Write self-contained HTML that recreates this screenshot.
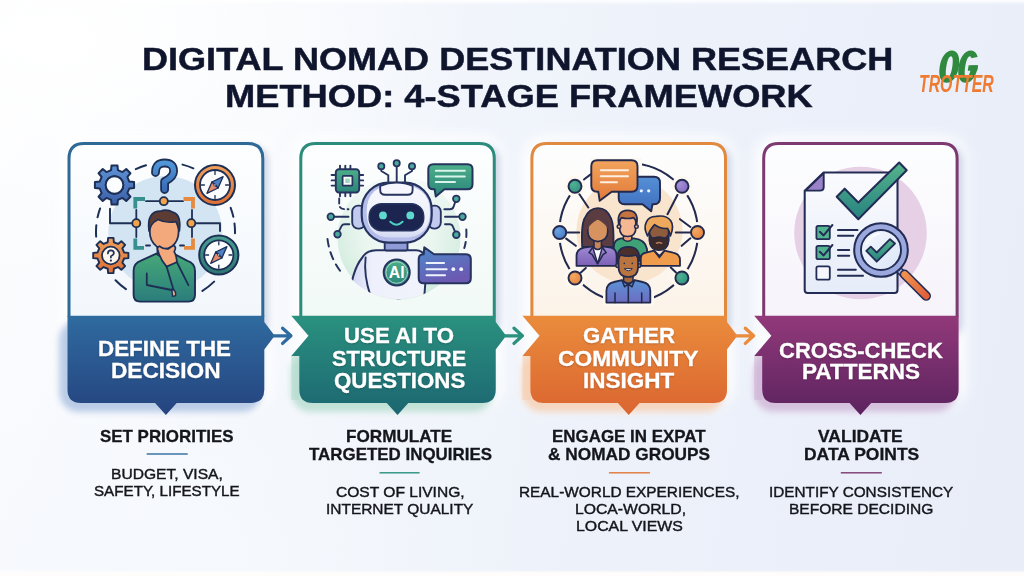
<!DOCTYPE html>
<html lang="en"><head><meta charset="utf-8"><title>Digital Nomad Destination Research Method</title>
<style>
html,body{margin:0;padding:0}
body{width:1024px;height:576px;overflow:hidden;position:relative;font-family:"Liberation Sans",sans-serif;
background:
 linear-gradient(180deg,rgba(255,255,255,.95) 0,rgba(255,255,255,0) 5px),
 linear-gradient(0deg,#fefdfb 0,#fefdfb 3px,rgba(255,255,255,0) 6px),
 radial-gradient(ellipse 420px 260px at 60px 40px,#ffffff 0,rgba(255,255,255,0) 100%),
 radial-gradient(ellipse 300px 200px at 150px 560px,#f6f9fd 0,rgba(246,249,253,0) 100%),
 linear-gradient(100deg,#fbfcfe 0,#f4f7fc 30%,#ecf1fa 65%,#e8edf8 100%);}
svg{position:absolute;left:0;top:0}
.t{position:absolute;white-space:nowrap;line-height:1;transform-origin:0 50%;letter-spacing:0}
</style></head><body>

<svg width="1024" height="576" viewBox="0 0 1024 576">
<defs>
<linearGradient id="bg0" x1="0" y1="0" x2="0" y2="1"><stop offset="0" stop-color="#2f6b9f"/><stop offset="1" stop-color="#25437f"/></linearGradient>
<linearGradient id="bg1" x1="0" y1="0" x2="0" y2="1"><stop offset="0" stop-color="#2a917f"/><stop offset="1" stop-color="#1c6671"/></linearGradient>
<linearGradient id="bg2" x1="0" y1="0" x2="0" y2="1"><stop offset="0" stop-color="#ea8c3c"/><stop offset="1" stop-color="#db6530"/></linearGradient>
<linearGradient id="bg3" x1="0" y1="0" x2="0" y2="1"><stop offset="0" stop-color="#92397a"/><stop offset="1" stop-color="#5b235f"/></linearGradient>
<linearGradient id="cf0" x1="0" y1="0" x2="0" y2="1"><stop offset="0" stop-color="#fdfeff"/><stop offset="1" stop-color="#f2f7fc"/></linearGradient>
<linearGradient id="cf1" x1="0" y1="0" x2="0" y2="1"><stop offset="0" stop-color="#fdfeff"/><stop offset="1" stop-color="#f1f9f6"/></linearGradient>
<linearGradient id="cf2" x1="0" y1="0" x2="0" y2="1"><stop offset="0" stop-color="#fdfeff"/><stop offset="1" stop-color="#fcf3e8"/></linearGradient>
<linearGradient id="cf3" x1="0" y1="0" x2="0" y2="1"><stop offset="0" stop-color="#fdfeff"/><stop offset="1" stop-color="#f6f3fa"/></linearGradient>
<filter id="sh" x="-20%" y="-20%" width="140%" height="140%"><feGaussianBlur stdDeviation="3.2"/></filter>
<filter id="halo" x="-20%" y="-20%" width="140%" height="150%"><feGaussianBlur stdDeviation="3"/></filter>
<filter id="glow" x="-20%" y="-20%" width="140%" height="140%"><feGaussianBlur stdDeviation="7"/></filter>
</defs>
<rect x="59.5" y="136.0" width="212.8" height="271.0" rx="22" fill="#fff" opacity=".9" filter="url(#glow)"/>
<rect x="73.5" y="145.0" width="195.3" height="193.8" rx="16" fill="#b4c0d8" opacity=".6" filter="url(#sh)"/>
<rect x="59.0" y="319.8" width="202.8" height="92.2" rx="20" fill="#a9c0e0" opacity=".8" filter="url(#halo)"/>
<rect x="291.3" y="136.0" width="212.4" height="271.0" rx="22" fill="#fff" opacity=".9" filter="url(#glow)"/>
<rect x="305.3" y="145.0" width="194.9" height="193.8" rx="16" fill="#b4c0d8" opacity=".6" filter="url(#sh)"/>
<rect x="290.8" y="352.0" width="202.4" height="60.0" rx="20" fill="#b3dacd" opacity=".8" filter="url(#halo)"/>
<rect x="522.4" y="136.0" width="212.6" height="271.0" rx="22" fill="#fff" opacity=".9" filter="url(#glow)"/>
<rect x="536.4" y="145.0" width="195.1" height="193.8" rx="16" fill="#b4c0d8" opacity=".6" filter="url(#sh)"/>
<rect x="521.9" y="352.0" width="202.6" height="60.0" rx="20" fill="#f5cdb0" opacity=".8" filter="url(#halo)"/>
<rect x="754.2" y="136.0" width="212.4" height="271.0" rx="22" fill="#fff" opacity=".9" filter="url(#glow)"/>
<rect x="768.2" y="145.0" width="194.9" height="193.8" rx="16" fill="#b4c0d8" opacity=".6" filter="url(#sh)"/>
<rect x="753.7" y="352.0" width="202.4" height="60.0" rx="20" fill="#cdb3d6" opacity=".8" filter="url(#halo)"/>
<path d="M69.00,316.80 L69.00,158.50 Q69.00,143.50 84.00,143.50 L247.80,143.50 Q262.80,143.50 262.80,158.50 L262.80,316.80" fill="url(#cf0)" stroke="#2f6a97" stroke-width="3"/>
<path d="M67.50,315.80 L264.30,315.80 L264.30,322.00 L274.70,335.80 L264.30,349.60 L264.30,389.50 Q264.30,403.00 250.80,403.00 L176.70,403.00 L165.90,415.00 L155.10,403.00 L81.00,403.00 Q67.50,403.00 67.50,389.50 Z" fill="url(#bg0)"/>
<path d="M273.70,335.8 L290.90,335.8 M282.60,328.2 L290.90,335.8 L282.60,343.4" fill="none" stroke="#2f6b9f" stroke-width="3.3" stroke-linecap="round" stroke-linejoin="round"/>
<path d="M300.80,316.80 L300.80,158.50 Q300.80,143.50 315.80,143.50 L479.25,143.50 Q494.25,143.50 494.25,158.50 L494.25,316.80" fill="url(#cf1)" stroke="#2c8c7c" stroke-width="3"/>
<rect x="291.30" y="355.9" width="8.00" height="44" fill="#b3dacd" opacity=".55"/>
<path d="M291.30,315.80 L495.75,315.80 L495.75,322.00 L506.15,335.80 L495.75,349.60 L495.75,389.50 Q495.75,403.00 482.25,403.00 L408.32,403.00 L397.52,415.00 L386.72,403.00 L312.80,403.00 Q299.30,403.00 299.30,389.50 L299.30,355.90 L291.30,355.90 L308.50,335.80 Z" fill="url(#bg1)"/>
<path d="M505.15,335.8 L522.35,335.8 M514.05,328.2 L522.35,335.8 L514.05,343.4" fill="none" stroke="#2a917f" stroke-width="3.3" stroke-linecap="round" stroke-linejoin="round"/>
<path d="M531.90,316.80 L531.90,158.50 Q531.90,143.50 546.90,143.50 L710.50,143.50 Q725.50,143.50 725.50,158.50 L725.50,316.80" fill="url(#cf2)" stroke="#e0893f" stroke-width="3"/>
<rect x="522.40" y="355.9" width="8.00" height="44" fill="#f5cdb0" opacity=".55"/>
<path d="M522.40,315.80 L727.00,315.80 L727.00,322.00 L737.40,335.80 L727.00,349.60 L727.00,389.50 Q727.00,403.00 713.50,403.00 L639.50,403.00 L628.70,415.00 L617.90,403.00 L543.90,403.00 Q530.40,403.00 530.40,389.50 L530.40,355.90 L522.40,355.90 L539.60,335.80 Z" fill="url(#bg2)"/>
<path d="M736.40,335.8 L753.60,335.8 M745.30,328.2 L753.60,335.8 L745.30,343.4" fill="none" stroke="#ea8c3c" stroke-width="3.3" stroke-linecap="round" stroke-linejoin="round"/>
<path d="M763.70,316.80 L763.70,158.50 Q763.70,143.50 778.70,143.50 L942.10,143.50 Q957.10,143.50 957.10,158.50 L957.10,316.80" fill="url(#cf3)" stroke="#7d3a70" stroke-width="3"/>
<rect x="754.20" y="355.9" width="8.00" height="44" fill="#cdb3d6" opacity=".55"/>
<path d="M754.20,315.80 L958.60,315.80 L958.60,389.50 Q958.60,403.00 945.10,403.00 L871.20,403.00 L860.40,415.00 L849.60,403.00 L775.70,403.00 Q762.20,403.00 762.20,389.50 L762.20,355.90 L754.20,355.90 L771.40,335.80 Z" fill="url(#bg3)"/>
<rect x="146.7" y="453.3" width="41.0" height="1.4" fill="#2f6b9f"/>
<rect x="379.5" y="472.1" width="40.1" height="1.4" fill="#2a917f"/>
<rect x="608.9" y="472.1" width="41.0" height="1.4" fill="#e0793a"/>
<rect x="840.8" y="472.1" width="41.0" height="1.4" fill="#7d3a70"/>
<g id="ill1" stroke-linecap="round" stroke-linejoin="round">
<defs>
<linearGradient id="i1gb" x1="0" y1="0" x2="0" y2="1"><stop offset="0" stop-color="#5f93d6"/><stop offset="1" stop-color="#3b5fa6"/></linearGradient>
<linearGradient id="i1go" x1="0" y1="0" x2="0" y2="1"><stop offset="0" stop-color="#f0a05a"/><stop offset="1" stop-color="#dd6f36"/></linearGradient>
<linearGradient id="i1gs" x1="0" y1="0" x2="0" y2="1"><stop offset="0" stop-color="#46a878"/><stop offset="1" stop-color="#2b7d7c"/></linearGradient>
<linearGradient id="i1gq" x1="0" y1="0" x2="0" y2="1"><stop offset="0" stop-color="#4f96d8"/><stop offset="1" stop-color="#3a6cb6"/></linearGradient>
<linearGradient id="i1gt" x1="0" y1="0" x2="0" y2="1"><stop offset="0" stop-color="#4a9f92"/><stop offset="1" stop-color="#2c7672"/></linearGradient>
</defs>
<circle cx="165.3" cy="233" r="57" fill="#d3e4f3"/>
<path d="M135.80,169.17 A69.50,69.50 0 0,1 145.99,165.29 M182.55,164.62 A69.50,69.50 0 0,1 193.32,168.31 M97.57,217.31 A69.50,69.50 0 0,1 100.11,208.46 M96.15,236.61 A69.50,69.50 0 0,1 96.33,225.22 M230.68,207.89 A69.50,69.50 0 0,1 233.33,216.84 M234.47,223.41 A69.50,69.50 0 0,1 234.99,233.33 M125.94,289.14 A69.50,69.50 0 0,1 115.51,280.28 M214.13,281.66 A69.50,69.50 0 0,1 202.43,290.87" fill="none" stroke="#1d2f55" stroke-width="2"/>
<path d="M136.3,223.2 H110 V208.8 M191.3,223.2 H220 V231" fill="none" stroke="#1d2f55" stroke-width="1.9"/>
<path d="M146,201.2 H183 M136.3,210 V237 M192,210 V237 M146,245.5 H150 M180,245.5 H184" fill="none" stroke="#1d2f55" stroke-width="1.8"/>
<path d="M135.3,208.5 V199 H145 M135.3,238.5 V247.8 H144" fill="none" stroke="#35908f" stroke-width="3.8" stroke-linecap="butt" stroke-linejoin="miter"/>
<path d="M193,208.5 V199 H183.5 M193,238.5 V247.8 H184" fill="none" stroke="#e58a3e" stroke-width="3.8" stroke-linecap="butt" stroke-linejoin="miter"/>
<path d="M129.31,181.57 L134.08,182.03 L134.08,187.97 L129.31,188.43 L127.40,193.04 L130.44,196.75 L126.25,200.94 L122.54,197.90 L117.93,199.81 L117.47,204.58 L111.53,204.58 L111.07,199.81 L106.46,197.90 L102.75,200.94 L98.56,196.75 L101.60,193.04 L99.69,188.43 L94.92,187.97 L94.92,182.03 L99.69,181.57 L101.60,176.96 L98.56,173.25 L102.75,169.06 L106.46,172.10 L111.07,170.19 L111.53,165.42 L117.47,165.42 L117.93,170.19 L122.54,172.10 L126.25,169.06 L130.44,173.25 L127.40,176.96 Z M105.70,185.00 a8.80,8.80 0 1,0 17.60,0 a8.80,8.80 0 1,0 -17.60,0 Z" fill="url(#i1gb)" fill-rule="evenodd" stroke="#1d2f55" stroke-width="2"/>
<circle cx="114.5" cy="185" r="8.8" fill="#fbfdff" stroke="#1d2f55" stroke-width="1.9"/>
<path d="M124.05,252.43 L128.40,252.83 L128.40,258.17 L124.05,258.57 L122.34,262.70 L125.13,266.06 L121.36,269.83 L118.00,267.04 L113.87,268.75 L113.47,273.10 L108.13,273.10 L107.73,268.75 L103.60,267.04 L100.24,269.83 L96.47,266.06 L99.26,262.70 L97.55,258.57 L93.20,258.17 L93.20,252.83 L97.55,252.43 L99.26,248.30 L96.47,244.94 L100.24,241.17 L103.60,243.96 L107.73,242.25 L108.13,237.90 L113.47,237.90 L113.87,242.25 L118.00,243.96 L121.36,241.17 L125.13,244.94 L122.34,248.30 Z" fill="url(#i1go)" stroke="#1d2f55" stroke-width="1.9"/>
<circle cx="110.8" cy="255.5" r="8.8" fill="#fdf6ee" stroke="#1d2f55" stroke-width="1.8"/>
<path d="M107.9,253.4 Q107.9,250.3 110.9,250.3 Q113.9,250.3 113.9,253 Q113.9,254.8 110.9,256.2 V257.6" fill="none" stroke="#1d2f55" stroke-width="1.7"/>
<circle cx="110.9" cy="260.6" r="1.1" fill="#1d2f55"/>
<path d="M155.5,172.5 Q155.5,163 164.6,163 Q173.6,163 173.6,171.2 Q173.6,176.8 164.6,181.5 V189.5" fill="none" stroke="#1d2f55" stroke-width="8.8"/>
<path d="M155.5,172.5 Q155.5,163 164.6,163 Q173.6,163 173.6,171.2 Q173.6,176.8 164.6,181.5 V189.5" fill="none" stroke="url(#i1gq)" stroke-width="5.2"/>
<circle cx="215.0" cy="185.0" r="20.0" fill="url(#i1go)" stroke="#1d2f55" stroke-width="2"/>
<circle cx="215.0" cy="185.0" r="15.0" fill="#fbfcfe" stroke="#1d2f55" stroke-width="1.8"/>
<path d="M215.0,171.4 L215.0,174.4" stroke="#1d2f55" stroke-width="1.3" fill="none"/>
<path d="M228.6,185.0 L225.6,185.0" stroke="#1d2f55" stroke-width="1.3" fill="none"/>
<path d="M215.0,198.6 L215.0,195.6" stroke="#1d2f55" stroke-width="1.3" fill="none"/>
<path d="M201.4,185.0 L204.4,185.0" stroke="#1d2f55" stroke-width="1.3" fill="none"/>
<g transform="translate(215.0 185.0) rotate(44)">
<path d="M0,-11.6 L4.3,0 L-4.3,0 Z" fill="#4f80c6" stroke="#1d2f55" stroke-width="1.3"/>
<path d="M0,11.6 L4.3,0 L-4.3,0 Z" fill="#e58a6c" stroke="#1d2f55" stroke-width="1.3"/>
<circle cx="0" cy="0" r="1.2" fill="#fff" stroke="#1d2f55" stroke-width=".8"/>
</g>
<circle cx="218.8" cy="255.0" r="19.6" fill="url(#i1gt)" stroke="#1d2f55" stroke-width="2"/>
<circle cx="218.8" cy="255.0" r="14.6" fill="#fbfcfe" stroke="#1d2f55" stroke-width="1.8"/>
<path d="M218.8,241.8 L218.8,244.8" stroke="#1d2f55" stroke-width="1.3" fill="none"/>
<path d="M232.0,255.0 L229.0,255.0" stroke="#1d2f55" stroke-width="1.3" fill="none"/>
<path d="M218.8,268.2 L218.8,265.2" stroke="#1d2f55" stroke-width="1.3" fill="none"/>
<path d="M205.6,255.0 L208.6,255.0" stroke="#1d2f55" stroke-width="1.3" fill="none"/>
<g transform="translate(218.8 255.0) rotate(44)">
<path d="M0,-11.6 L4.3,0 L-4.3,0 Z" fill="#4f80c6" stroke="#1d2f55" stroke-width="1.3"/>
<path d="M0,11.6 L4.3,0 L-4.3,0 Z" fill="#e58a6c" stroke="#1d2f55" stroke-width="1.3"/>
<circle cx="0" cy="0" r="1.2" fill="#fff" stroke="#1d2f55" stroke-width=".8"/>
</g>
<circle cx="163.8" cy="201.2" r="4" fill="#f3a449" stroke="#1d2f55" stroke-width="1.8"/>
<circle cx="136.3" cy="223.2" r="4" fill="#f3a449" stroke="#1d2f55" stroke-width="1.8"/>
<circle cx="191.3" cy="223.2" r="4" fill="#f3a449" stroke="#1d2f55" stroke-width="1.8"/>
<path d="M133.6,295 V271 Q133.6,263 141,260.6 L156.4,253.6 Q164.5,260 173.6,253.6 L187,260.6 Q195,263 195,271 V295 Q195,301.6 188.4,301.6 H140.2 Q133.6,301.6 133.6,295 Z" fill="url(#i1gs)" stroke="#1d2f55" stroke-width="1.9"/>
<path d="M157.4,244 V254.6 Q164.5,260.6 172.4,254.6 V244 Z" fill="#e8966c" stroke="#1d2f55" stroke-width="1.6"/>
<path d="M149.8,226 Q149.8,214 164.2,214 Q178.6,214 178.6,226 V232 Q178.6,241 172,246.4 Q164.2,251.6 156.6,246.4 Q149.8,241 149.8,232 Z" fill="#f4a97d" stroke="#1d2f55" stroke-width="1.8"/>
<path d="M149,231 Q146.4,211.2 160.6,211.2 Q166.4,208.6 173.4,212.4 Q181.4,215 179.4,231 Q177.4,224.6 176,221.6 Q166.4,223.6 158,219.4 Q153.6,221.6 151.4,225 Z" fill="#5d3c33" stroke="#1d2f55" stroke-width="1.7"/>
<path d="M166.4,266 L175.2,295.4 M176.8,262 L188.4,285.2" fill="none" stroke="#1d2f55" stroke-width="1.8"/>
<path d="M146.8,273.4 V285 L171.6,290" fill="none" stroke="#1d2f55" stroke-width="1.8"/>
<path d="M171.8,289 Q176.4,290.4 175.6,295.6 L172.6,296.4 Z" fill="#f4a97d" stroke="#1d2f55" stroke-width="1.4"/>
<path d="M158.2,251.4 Q156.2,247.6 159.4,246.2 Q163.6,249.4 168.4,248.8 L173.4,245.4 Q177,246.8 174.2,251.6 Q177.4,258 176.6,262.2 L166.6,266.6 Q160.4,259.6 158.2,251.4 Z" fill="#f4a97d" stroke="#1d2f55" stroke-width="1.7"/>
</g>
<g id="ill2" stroke-linecap="round" stroke-linejoin="round">
<defs>
<radialGradient id="i2bg" cx="399" cy="238" r="63" gradientUnits="userSpaceOnUse"><stop offset="0" stop-color="#f4faf7"/><stop offset=".55" stop-color="#e6f4ec"/><stop offset="1" stop-color="#cfeadc"/></radialGradient>
<linearGradient id="i2fade" x1="0" y1="176" x2="0" y2="300" gradientUnits="userSpaceOnUse"><stop offset="0" stop-color="#fff" stop-opacity=".1"/><stop offset=".45" stop-color="#fff" stop-opacity=".75"/><stop offset="1" stop-color="#fff" stop-opacity="1"/></linearGradient>
<mask id="i2m" maskUnits="userSpaceOnUse" x="330" y="170" width="140" height="135"><rect x="330" y="170" width="140" height="135" fill="url(#i2fade)"/></mask>
<linearGradient id="i2g" x1="0" y1="0" x2="0" y2="1"><stop offset="0" stop-color="#4daf8a"/><stop offset="1" stop-color="#2a8579"/></linearGradient>
<linearGradient id="i2b" x1="0" y1="0" x2=".4" y2="1"><stop offset="0" stop-color="#4c8bca"/><stop offset="1" stop-color="#6c59b2"/></linearGradient>
<linearGradient id="i2h" x1="0" y1="0" x2="0" y2="1"><stop offset="0" stop-color="#f8f9fe"/><stop offset=".75" stop-color="#eceffa"/><stop offset="1" stop-color="#d3d9f3"/></linearGradient>
<linearGradient id="i2body" x1="0" y1="0" x2="1" y2="0"><stop offset="0" stop-color="#cfd5f1"/><stop offset=".3" stop-color="#eef0fb"/><stop offset="1" stop-color="#f1f3fc"/></linearGradient>
<clipPath id="i2clip"><circle cx="398.5" cy="234.5" r="64.7"/></clipPath>
</defs>
<circle cx="399" cy="238" r="61.5" fill="url(#i2bg)" mask="url(#i2m)"/>
<path d="M327.5,239 Q330,259 343,274.5" fill="none" stroke="#26335f" stroke-width="2.0" stroke-dasharray="7.5 6"/>
<path d="M466.3,229.5 Q467,239 464.3,248" fill="none" stroke="#26335f" stroke-width="2.0" stroke-dasharray="7.5 5"/>
<path d="M339.2,198.5 V204 Q339.2,209.2 345,209.2 H348.5" fill="none" stroke="#26335f" stroke-width="1.88" stroke-dasharray="5 3.4"/>
<path d="M330.8,216.7 H348.5 M337.5,234.2 L341.5,226.2 Q342.3,224.3 345,224.3 H349.3 M456.3,198.8 L453.6,206.6 Q452.8,209.2 450,209.2 H444.3 M462.5,216.7 H445 M456.3,234.7 L452.8,226.4 Q452,224.3 449.5,224.3 H445" fill="none" stroke="#26335f" stroke-width="1.88"/>
<circle cx="330.8" cy="216.7" r="3.3" fill="#4aa99c" stroke="#26335f" stroke-width="1.75"/>
<circle cx="337.5" cy="234.2" r="3.3" fill="#4aa99c" stroke="#26335f" stroke-width="1.75"/>
<circle cx="456.3" cy="198.8" r="3.3" fill="#4aa99c" stroke="#26335f" stroke-width="1.75"/>
<circle cx="462.5" cy="216.7" r="3.3" fill="#4aa99c" stroke="#26335f" stroke-width="1.75"/>
<circle cx="456.3" cy="234.7" r="3.3" fill="#4aa99c" stroke="#26335f" stroke-width="1.75"/>
<path d="M340,165.6 V169.5 M345.3,165.6 V169.5 M350.4,165.6 V169.5 M340,192.5 V196.3 M345.3,192.5 V196.3 M350.4,192.5 V196.3 M331.6,175 H335.8 M331.6,180.4 H335.8 M331.6,185.6 H335.8 M359.2,175 H363.2 M359.2,180.4 H363.2 M359.2,185.6 H363.2" fill="none" stroke="#26335f" stroke-width="1.88"/>
<rect x="335.8" y="169.2" width="23.4" height="23.3" rx="3.2" fill="url(#i2g)" stroke="#26335f" stroke-width="1.88"/>
<rect x="342.6" y="175.9" width="9.8" height="9.8" rx=".8" fill="#f4fbf8" stroke="#26335f" stroke-width="1.75"/>
<rect x="345.3" y="178.6" width="4.4" height="4.4" fill="#9fd5bf"/>
<path d="M396.7,165 V182 M381.3,167 V171 L388.3,175.3 V182.5 M412,167 V171 L405,175.3 V182.5" fill="none" stroke="#26335f" stroke-width="1.88"/>
<circle cx="396.7" cy="163.2" r="3.1" fill="#4aa99c" stroke="#26335f" stroke-width="1.75"/>
<circle cx="381.3" cy="166.3" r="3.1" fill="#4aa99c" stroke="#26335f" stroke-width="1.75"/>
<circle cx="412.0" cy="166.3" r="3.1" fill="#4aa99c" stroke="#26335f" stroke-width="1.75"/>
<g clip-path="url(#i2clip)">
<path d="M349,300 Q352,270 362,258 Q366,250.5 376,250.2 H416 Q425,250.5 427,262 L424,300 Z" fill="url(#i2body)" stroke="#26335f" stroke-width="2.0"/>
<path d="M365.6,257.5 Q363.5,275 370.5,296" fill="none" stroke="#26335f" stroke-width="1.88"/>
</g>
<rect x="384.7" y="241.5" width="22.8" height="9" rx="1.5" fill="#8f9bd6" stroke="#26335f" stroke-width="1.88"/>
<rect x="352.2" y="205.6" width="13" height="23" rx="6" fill="#c3caef" stroke="#26335f" stroke-width="1.88"/>
<rect x="428.2" y="205.6" width="12.6" height="23" rx="6" fill="#c3caef" stroke="#26335f" stroke-width="1.88"/>
<rect x="361.7" y="182.6" width="70" height="60" rx="27" ry="27" fill="#b4bde9" stroke="#26335f" stroke-width="2.12"/>
<path d="M366.6,212 Q366.6,184.6 396.7,184.6 Q430,184.6 430,212 Q430,237.6 404,237.6 H391 Q366.6,237.6 366.6,212 Z" fill="url(#i2h)"/>
<path d="M380.2,186 Q388,182.6 396.5,182.6 Q405,182.6 412.6,186 V190 Q412.6,194.8 407.5,194.8 H385.3 Q380.2,194.8 380.2,190 Z" fill="#f6f7fe" stroke="#26335f" stroke-width="1.88"/>
<rect x="369.2" y="203.7" width="54.5" height="27" rx="12.5" fill="#1b2550" stroke="#26335f" stroke-width="1.5"/>
<circle cx="383" cy="215.4" r="3.9" fill="#5fd9cf"/><circle cx="410.3" cy="215.4" r="3.9" fill="#5fd9cf"/>
<path d="M390.3,221.8 Q396.5,227.6 402.6,221.8" fill="none" stroke="#4fd0c4" stroke-width="2.0"/>
<circle cx="396.7" cy="272.5" r="13" fill="url(#i2g)" stroke="#26335f" stroke-width="2.0"/>
<circle cx="396.7" cy="272.5" r="10.8" fill="none" stroke="#bfe6d6" stroke-width="1.0" opacity=".8"/>
<text x="396.7" y="278.1" text-anchor="middle" font-family="Liberation Sans, sans-serif" font-weight="700" font-size="15.8" fill="#fff">AI</text>
<path d="M433.3,164.2 H467.5 Q472.5,164.2 472.5,169.2 V184.2 Q472.5,189.2 467.5,189.2 H444.5 L435.8,196.5 L434.6,189.2 H433.3 Q428.3,189.2 428.3,184.2 V169.2 Q428.3,164.2 433.3,164.2 Z" fill="url(#i2g)" stroke="#26335f" stroke-width="2.0"/>
<path d="M435.8,170.8 H464.8 M435.8,176.4 H464.8 M435.8,182 H455" fill="none" stroke="#d9f4ea" stroke-width="2.0"/>
<path d="M423.7,254.3 L424.3,247.2 L434,254.3 H465.8 Q470.8,254.3 470.8,259.3 V278.3 Q470.8,283.3 465.8,283.3 H423.7 Q418.7,283.3 418.7,278.3 V259.3 Q418.7,254.3 423.7,254.3 Z" fill="url(#i2b)" stroke="#26335f" stroke-width="2.0"/>
<path d="M426.6,263 H444 M426.6,269.2 H446.6 M426.6,275.2 H445" fill="none" stroke="#eef2ff" stroke-width="2.12"/>
<circle cx="453.3" cy="269.2" r="1.9" fill="#f2f4ff"/><circle cx="461.2" cy="269.2" r="1.9" fill="#f2f4ff"/>
</g>
<g id="ill3" stroke-linecap="round" stroke-linejoin="round">
<defs>
<linearGradient id="i3o" x1="0" y1="0" x2="0" y2="1"><stop offset="0" stop-color="#f2a45c"/><stop offset="1" stop-color="#e17a3a"/></linearGradient>
<linearGradient id="i3b" x1="0" y1="0" x2="0" y2="1"><stop offset="0" stop-color="#5590d6"/><stop offset="1" stop-color="#3f6dbd"/></linearGradient>
<linearGradient id="i3p" x1="0" y1="0" x2="0" y2="1"><stop offset="0" stop-color="#a08ad2"/><stop offset="1" stop-color="#7c60b6"/></linearGradient>
<linearGradient id="i3s" x1="0" y1="0" x2="0" y2="1"><stop offset="0" stop-color="#5b93d8"/><stop offset="1" stop-color="#6d6cc0"/></linearGradient>
<radialGradient id="i3n1" cx=".35" cy=".35" r=".8"><stop offset="0" stop-color="#4fb193"/><stop offset="1" stop-color="#2f8e7c"/></radialGradient>
<radialGradient id="i3n2" cx=".35" cy=".35" r=".8"><stop offset="0" stop-color="#a58fd6"/><stop offset="1" stop-color="#7f68bd"/></radialGradient>
<radialGradient id="i3n3" cx=".35" cy=".35" r=".8"><stop offset="0" stop-color="#6aa2e0"/><stop offset="1" stop-color="#4677c4"/></radialGradient>
<radialGradient id="i3n4" cx=".35" cy=".35" r=".8"><stop offset="0" stop-color="#f4a860"/><stop offset="1" stop-color="#e27f3e"/></radialGradient>
</defs>
<circle cx="629.5" cy="230.5" r="53" fill="#f9e4cd"/>
<circle cx="628.6" cy="232.5" r="69.3" fill="none" stroke="#232a4d" stroke-width="2.04"/>
<circle cx="575.0" cy="186.3" r="10.6" fill="#fdf8f0"/>
<circle cx="682.0" cy="186.3" r="10.6" fill="#fdf8f0"/>
<circle cx="559.7" cy="232.5" r="10.6" fill="#fdf8f0"/>
<circle cx="697.5" cy="232.5" r="10.6" fill="#fdf8f0"/>
<circle cx="575.0" cy="278.0" r="10.6" fill="#fdf8f0"/>
<circle cx="681.9" cy="278.0" r="10.6" fill="#fdf8f0"/>
<rect x="603" y="292" width="51" height="14" fill="#fdf8f0"/>
<rect x="590" y="158" width="52" height="14" fill="#fdf8f0"/>
<path d="M579.4,194.3 L588.3,207.5 M677.4,195 L667.5,214.2 M566.7,232.5 H579.2 M566.2,238.6 L575.8,245.8 M690,232.5 H675.8 M690.4,227 L680,219.2 M690.4,238.3 L681.7,245.8 M580.6,272.7 L585.8,268 M676,272.5 L670.8,267.5" fill="none" stroke="#232a4d" stroke-width="2.04"/>
<circle cx="575.0" cy="186.3" r="6.5" fill="url(#i3n1)" stroke="#232a4d" stroke-width="1.92"/>
<circle cx="682.0" cy="186.3" r="6.5" fill="url(#i3n2)" stroke="#232a4d" stroke-width="1.92"/>
<circle cx="559.7" cy="232.5" r="6.5" fill="url(#i3n3)" stroke="#232a4d" stroke-width="1.92"/>
<circle cx="697.5" cy="232.5" r="6.5" fill="url(#i3n4)" stroke="#232a4d" stroke-width="1.92"/>
<circle cx="575.0" cy="278.0" r="6.5" fill="url(#i3n4)" stroke="#232a4d" stroke-width="1.92"/>
<circle cx="681.9" cy="278.0" r="6.5" fill="url(#i3n1)" stroke="#232a4d" stroke-width="1.92"/>
<path d="M582.2,247 Q581,226 584.5,218.5 Q589,208.2 598,208.2 Q607,208.2 611.2,218.5 Q614.3,226 613.3,247 Z" fill="#5b3c41" stroke="#232a4d" stroke-width="1.8"/>
<path d="M613.8,256 V247 Q613.8,239.5 621,238.3 L634,238.3 Q645.5,239.5 647,249 V256 Z" fill="#3fa276" stroke="#232a4d" stroke-width="1.8"/>
<path d="M623.4,233 V239.5 Q627.6,243 631.8,239.5 V233 Z" fill="#eeA27c" stroke="#232a4d" stroke-width="1.56"/>
<path d="M619.6,222 Q619.6,213.5 627.6,213.5 Q635.8,213.5 635.8,222 V228 Q635.8,236.5 627.6,236.5 Q619.6,236.5 619.6,228 Z" fill="#f6b893" stroke="#232a4d" stroke-width="1.68"/>
<circle cx="619" cy="226.6" r="1.8" fill="#f6b893" stroke="#232a4d" stroke-width="1.44"/><circle cx="636.4" cy="226.6" r="1.8" fill="#f6b893" stroke="#232a4d" stroke-width="1.44"/>
<path d="M618.6,223.5 Q616.8,210.4 627.6,210.4 Q638.8,210.4 636.8,223.5 Q635.6,219.5 633.6,217.6 Q627.6,219.4 621.6,217.6 Q619.6,219.5 618.6,223.5 Z" fill="#c7733f" stroke="#232a4d" stroke-width="1.68"/>
<path d="M576.5,265.8 V256 Q576.5,249 584,247.6 L593,246.3 L597.6,250 L602.4,246.3 L611,247.6 Q616.6,249 616.6,256 V265.8 Z" fill="url(#i3p)" stroke="#232a4d" stroke-width="1.8"/>
<path d="M592.8,247.3 L597.6,263.5 L602.4,247.3 Z" fill="#fbfbff" stroke="#232a4d" stroke-width="1.44"/>
<path d="M592.8,247.3 L589,252.6 L592,254.4 L597.6,263.8 L603.2,254.4 L606.2,252.6 L602.4,247.3" fill="none" stroke="#232a4d" stroke-width="1.56"/>
<path d="M594,240 V247.6 Q597.6,251.5 601.4,247.6 V240 Z" fill="#c88555" stroke="#232a4d" stroke-width="1.56"/>
<path d="M587.8,231 Q587.4,222 593,219.6 Q597.8,217.8 602.6,219.6 Q608.2,222 607.8,231 Q607.8,240.6 597.8,241.6 Q587.8,240.6 587.8,231 Z" fill="#d6935f" stroke="#232a4d" stroke-width="1.68"/>
<path d="M586.6,232 Q585.6,219.6 597.8,216.2 Q610,219.6 609,232 Q607.6,224.6 597.8,219.4 Q588,224.6 586.6,232 Z" fill="#5b3c41"/>
<path d="M640.8,265.8 V258 Q640.8,253.6 646,252.6 L654,250.6 L659.4,256 L664.6,250.6 L673,252.6 Q680,254 680,260 V265.8 Z" fill="#f09c4d" stroke="#232a4d" stroke-width="1.8"/>
<path d="M654,250.6 L659.4,257.6 L664.6,250.6" fill="none" stroke="#232a4d" stroke-width="1.56"/>
<path d="M649.5,229 Q649.5,221 659,221 Q668.6,221 668.6,229 V240 Q668.6,248.5 659,248.5 Q649.5,248.5 649.5,240 Z" fill="#8e5b3d" stroke="#232a4d" stroke-width="1.68"/>
<path d="M649.5,234 Q651.5,238.5 654.4,238 Q659,236 663.8,238 Q666.8,238.5 668.6,234 V241.5 Q667.6,250.4 659,250.4 Q650.5,250.4 649.5,241.5 Z" fill="#3c2a2a" stroke="#232a4d" stroke-width="1.44"/>
<path d="M656.6,243.2 Q659,241.8 661.6,243.2" fill="none" stroke="#b77a5a" stroke-width="1.68"/>
<path d="M647.6,236 Q643.4,228 646.2,222.4 Q648.6,216.4 656,216.4 Q666,214.6 670.6,220.4 Q674.6,226 670.4,236 Q669.6,231 667.6,228.4 Q660,229 654.6,224.6 Q651.6,228 650,230.6 Z" fill="#efa95c" stroke="#232a4d" stroke-width="1.68"/>
<path d="M606.4,302.6 V291 Q606.4,283.5 614,282 L622,280.2 L628.3,284.6 L634.6,280.2 L642.6,282 Q650.3,283.5 650.3,291 V302.6 Z" fill="url(#i3s)" stroke="#232a4d" stroke-width="1.8"/>
<path d="M622,280.2 L624.6,286.8 L628.3,284 L632,286.8 L634.6,280.2 M628.3,284.6 V302.6 M615,293 V302.6 M641.7,293 V302.6" fill="none" stroke="#232a4d" stroke-width="1.56"/>
<path d="M623.6,273 V281 Q628.3,285.4 633,281 V273 Z" fill="#a8673a" stroke="#232a4d" stroke-width="1.56"/>
<circle cx="617.8" cy="265.6" r="2" fill="#b9743f" stroke="#232a4d" stroke-width="1.44"/><circle cx="638.8" cy="265.6" r="2" fill="#b9743f" stroke="#232a4d" stroke-width="1.44"/>
<path d="M618.6,260 Q618.6,250 628.3,250 Q638,250 638,260 V267 Q638,277 628.3,277 Q618.6,277 618.6,267 Z" fill="#b9743f" stroke="#232a4d" stroke-width="1.68"/>
<path d="M617.6,262 Q615.6,246.8 628.3,246.8 Q641,246.8 639,262 Q638,257 636,255 Q628.3,257.4 620.6,255 Q618.6,257 617.6,262 Z" fill="#4a2f2c" stroke="#232a4d" stroke-width="1.68"/>
<path d="M624.6,269 Q628.3,272.8 632,269 Z" fill="#fff" stroke="#232a4d" stroke-width="1.0"/>
<circle cx="624.3" cy="263.4" r=".8" fill="#232a4d"/><circle cx="632.3" cy="263.4" r=".8" fill="#232a4d"/>
<path d="M645.5,176.7 H654 Q660,176.7 660,182.7 V198.2 Q660,204.2 654,204.2 H652.5 L651.2,211.3 L642.5,204.2 H624.7 Q618.7,204.2 618.7,198.2 V182.7 Q618.7,176.7 624.7,176.7 Z" fill="url(#i3b)" stroke="#232a4d" stroke-width="1.92"/>
<circle cx="641.3" cy="190.8" r="1.6" fill="#eef3ff"/><circle cx="648.7" cy="190.8" r="1.6" fill="#eef3ff"/>
<path d="M597.3,160.3 H631.5 Q637.5,160.3 637.5,166.3 V185.7 Q637.5,191.7 631.5,191.7 H611.7 L599.7,200.8 L598.3,191.7 H597.3 Q591.3,191.7 591.3,185.7 V166.3 Q591.3,160.3 597.3,160.3 Z" fill="url(#i3o)" stroke="#232a4d" stroke-width="1.92"/>
<path d="M600.8,170.3 H628 M600.8,176.3 H628 M600.8,182.2 H617" fill="none" stroke="#fdf0e2" stroke-width="2.04"/>
</g>
<g id="ill4" stroke-linecap="round" stroke-linejoin="round">
<defs>
<linearGradient id="i4g" x1="0" y1="0" x2="0" y2="1"><stop offset="0" stop-color="#55b48c"/><stop offset="1" stop-color="#27827f"/></linearGradient>
<linearGradient id="i4d" x1="0" y1="0" x2="0" y2="1"><stop offset="0" stop-color="#fafbfe"/><stop offset="1" stop-color="#e6ecf8"/></linearGradient>
<linearGradient id="i4h" x1="0" y1="0" x2="1" y2="1"><stop offset="0" stop-color="#f0904e"/><stop offset="1" stop-color="#e2603a"/></linearGradient>
<linearGradient id="i4l" x1="0" y1="0" x2="1" y2="1"><stop offset="0" stop-color="#f4f8fe"/><stop offset="1" stop-color="#dbe6f6"/></linearGradient>
</defs>
<circle cx="860.5" cy="233" r="66.3" fill="#e6d0e6"/>
<path d="M823.7,172.5 H894.5 Q897.5,172.5 897.5,175.5 V290 Q897.5,293 894.5,293 H807.7 Q804.7,293 804.7,290 V190.8 Z" fill="url(#i4d)" stroke="#232c55" stroke-width="2.04"/>
<path d="M805.6,190.6 L823.7,173 V187 Q823.7,190.6 820,190.6 Z" fill="#9a82c8" stroke="#232c55" stroke-width="1.92"/>
<rect x="816.4" y="225.8" width="13.4" height="13.4" rx="1.8" fill="#52b391" stroke="#232c55" stroke-width="1.8"/>
<path d="M819.8,231.8 L823.6,235.4 L832.4,225.0" fill="none" stroke="#232c55" stroke-width="2.0"/>
<rect x="816.4" y="245.8" width="13.4" height="13.4" rx="1.8" fill="#52b391" stroke="#232c55" stroke-width="1.8"/>
<path d="M819.8,251.8 L823.6,255.4 L832.4,245.0" fill="none" stroke="#232c55" stroke-width="2.0"/>
<rect x="816.4" y="266.3" width="13.4" height="13.4" rx="1.8" fill="#f5f7fd" stroke="#232c55" stroke-width="1.8"/>
<path d="M838,230 H857.5 M838,235.8 H853.3 M838,250 H849.2 M838,255.8 H849.2 M838,269.7 H855.8 M838,275.8 H863" fill="none" stroke="#232c55" stroke-width="2.04"/>
<path d="M836.7,196.7 L844.7,188.7 L858.3,202.5 L899.2,162.5 L906.7,170.3 L858.3,219.2 Z" fill="url(#i4g)" stroke="#232c55" stroke-width="2.04"/>
<path d="M898.6,269.6 L905.4,276.4" fill="none" stroke="#232c55" stroke-width="7.2" stroke-linecap="butt"/>
<path d="M898.6,269.6 L905.4,276.4" fill="none" stroke="#aab4e4" stroke-width="4.2" stroke-linecap="butt"/>
<path d="M904.6,274.4 L926.2,296" fill="none" stroke="#232c55" stroke-width="9.6"/>
<path d="M904.6,274.4 L926.2,296" fill="none" stroke="url(#i4h)" stroke-width="6.6"/>
<circle cx="881" cy="250" r="26.8" fill="#9ba8de" stroke="#232c55" stroke-width="2.04"/>
<circle cx="881" cy="250" r="20" fill="url(#i4l)" stroke="#232c55" stroke-width="1.92"/>
<path d="M866.6,243.6 Q870.6,235.6 879,233.6" fill="none" stroke="#fff" stroke-width="1.8"/>
<path d="M866.3,250.8 L870.8,246.7 L876.7,252.5 L890,239.2 L895,243.5 L876.7,261.7 Z" fill="url(#i4g)" stroke="#232c55" stroke-width="1.8"/>
</g>
<g id="logo" transform="translate(958.6 66.7) skewX(-9) translate(-958.6 -66.7)">
<defs><mask id="gmask" maskUnits="userSpaceOnUse" x="955" y="48" width="26" height="38">
<rect x="955" y="48" width="26" height="38" fill="#fff"/>
<path d="M968.6,58.6 L981,56 L981,65.4 L968.6,65.4 Z" fill="#000"/></mask></defs>
<path fill="#2f8a3f" fill-rule="evenodd" d="M949.3,50.6 C955.1,50.6 958.9,57 958.9,66.7 C958.9,76.4 955.1,82.8 949.3,82.8 C943.5,82.8 939.7,76.4 939.7,66.7 C939.7,57 943.5,50.6 949.3,50.6 Z M949.3,56.2 C947.5,56.2 946.3,60.2 946.3,66.7 C946.3,73.2 947.5,77.2 949.3,77.2 C951.1,77.2 952.3,73.2 952.3,66.7 C952.3,60.2 951.1,56.2 949.3,56.2 Z"/>
<g mask="url(#gmask)"><path fill="#2f8a3f" fill-rule="evenodd" d="M968.2,50.6 C974,50.6 977.8,57 977.8,66.7 C977.8,76.4 974,82.8 968.2,82.8 C962.4,82.8 958.6,76.4 958.6,66.7 C958.6,57 962.4,50.6 968.2,50.6 Z M968.2,56.2 C966.4,56.2 965.2,60.2 965.2,66.7 C965.2,73.2 966.4,77.2 968.2,77.2 C970,77.2 971.2,73.2 971.2,66.7 C971.2,60.2 970,56.2 968.2,56.2 Z"/></g>
<rect x="968.4" y="65.2" width="9.4" height="5.6" fill="#2f8a3f"/>
</g>

</svg>
<div class="t" id="t0" style="left:142.02px;top:44.10px;font-size:30.60px;font-weight:700;color:#10152e;transform:scaleX(1.1788);-webkit-text-stroke:.45px #10152e;">DIGITAL NOMAD DESTINATION RESEARCH</div>
<div class="t" id="t1" style="left:224.62px;top:81.40px;font-size:30.60px;font-weight:700;color:#10152e;transform:scaleX(1.1857);-webkit-text-stroke:.45px #10152e;">METHOD: 4-STAGE FRAMEWORK</div>
<div class="t" id="t2" style="left:98.45px;top:337.65px;font-size:21.20px;font-weight:700;color:#fff;transform:scaleX(1.0559);text-shadow:0 1px 2px rgba(0,0,0,.25);-webkit-text-stroke:.3px #fff;">DEFINE THE</div>
<div class="t" id="t3" style="left:110.85px;top:360.45px;font-size:21.20px;font-weight:700;color:#fff;transform:scaleX(1.0692);text-shadow:0 1px 2px rgba(0,0,0,.25);-webkit-text-stroke:.3px #fff;">DECISION</div>
<div class="t" id="t4" style="left:343.75px;top:324.95px;font-size:21.20px;font-weight:700;color:#fff;transform:scaleX(1.0499);text-shadow:0 1px 2px rgba(0,0,0,.25);-webkit-text-stroke:.3px #fff;">USE AI TO</div>
<div class="t" id="t5" style="left:331.85px;top:348.05px;font-size:21.20px;font-weight:700;color:#fff;transform:scaleX(1.0279);text-shadow:0 1px 2px rgba(0,0,0,.25);-webkit-text-stroke:.3px #fff;">STRUCTURE</div>
<div class="t" id="t6" style="left:333.65px;top:370.45px;font-size:21.20px;font-weight:700;color:#fff;transform:scaleX(1.0522);text-shadow:0 1px 2px rgba(0,0,0,.25);-webkit-text-stroke:.3px #fff;">QUESTIONS</div>
<div class="t" id="t7" style="left:582.95px;top:325.35px;font-size:21.20px;font-weight:700;color:#fff;transform:scaleX(1.0468);text-shadow:0 1px 2px rgba(0,0,0,.25);-webkit-text-stroke:.3px #fff;">GATHER</div>
<div class="t" id="t8" style="left:558.45px;top:348.05px;font-size:21.20px;font-weight:700;color:#fff;transform:scaleX(1.0746);text-shadow:0 1px 2px rgba(0,0,0,.25);-webkit-text-stroke:.3px #fff;">COMMUNITY</div>
<div class="t" id="t9" style="left:583.45px;top:370.45px;font-size:21.20px;font-weight:700;color:#fff;transform:scaleX(1.0602);text-shadow:0 1px 2px rgba(0,0,0,.25);-webkit-text-stroke:.3px #fff;">INSIGHT</div>
<div class="t" id="t10" style="left:779.05px;top:339.55px;font-size:21.20px;font-weight:700;color:#fff;transform:scaleX(1.0384);text-shadow:0 1px 2px rgba(0,0,0,.25);-webkit-text-stroke:.3px #fff;">CROSS-CHECK</div>
<div class="t" id="t11" style="left:802.35px;top:361.05px;font-size:21.20px;font-weight:700;color:#fff;transform:scaleX(1.0627);text-shadow:0 1px 2px rgba(0,0,0,.25);-webkit-text-stroke:.3px #fff;">PATTERNS</div>
<div class="t" id="t12" style="left:100.23px;top:427.71px;font-size:17.00px;font-weight:700;color:#15161c;transform:scaleX(0.9954);-webkit-text-stroke:.3px #15161c;">SET PRIORITIES</div>
<div class="t" id="t13" style="left:346.24px;top:427.71px;font-size:17.00px;font-weight:700;color:#15161c;transform:scaleX(1.0074);-webkit-text-stroke:.3px #15161c;">FORMULATE</div>
<div class="t" id="t14" style="left:308.74px;top:446.41px;font-size:17.00px;font-weight:700;color:#15161c;transform:scaleX(0.9954);-webkit-text-stroke:.3px #15161c;">TARGETED INQUIRIES</div>
<div class="t" id="t15" style="left:552.13px;top:427.71px;font-size:17.00px;font-weight:700;color:#15161c;transform:scaleX(0.9958);-webkit-text-stroke:.3px #15161c;">ENGAGE IN EXPAT</div>
<div class="t" id="t16" style="left:548.34px;top:446.41px;font-size:17.00px;font-weight:700;color:#15161c;transform:scaleX(1.0157);-webkit-text-stroke:.3px #15161c;">&amp; NOMAD GROUPS</div>
<div class="t" id="t17" style="left:818.44px;top:427.71px;font-size:17.00px;font-weight:700;color:#15161c;transform:scaleX(1.0272);-webkit-text-stroke:.3px #15161c;">VALIDATE</div>
<div class="t" id="t18" style="left:803.63px;top:446.41px;font-size:17.00px;font-weight:700;color:#15161c;transform:scaleX(1.0281);-webkit-text-stroke:.3px #15161c;">DATA POINTS</div>
<div class="t" id="t19" style="left:111.31px;top:465.96px;font-size:15.40px;font-weight:400;color:#15161c;transform:scaleX(1.0132);-webkit-text-stroke:.42px #15161c;">BUDGET, VISA,</div>
<div class="t" id="t20" style="left:94.31px;top:483.26px;font-size:15.40px;font-weight:400;color:#15161c;transform:scaleX(0.9863);-webkit-text-stroke:.42px #15161c;">SAFETY, LIFESTYLE</div>
<div class="t" id="t21" style="left:335.51px;top:484.16px;font-size:15.40px;font-weight:400;color:#15161c;transform:scaleX(1.0114);-webkit-text-stroke:.42px #15161c;">COST OF LIVING,</div>
<div class="t" id="t22" style="left:325.61px;top:500.66px;font-size:15.40px;font-weight:400;color:#15161c;transform:scaleX(1.0039);-webkit-text-stroke:.42px #15161c;">INTERNET QUALITY</div>
<div class="t" id="t23" style="left:518.71px;top:484.16px;font-size:15.40px;font-weight:400;color:#15161c;transform:scaleX(0.9992);-webkit-text-stroke:.42px #15161c;">REAL-WORLD EXPERIENCES,</div>
<div class="t" id="t24" style="left:575.41px;top:500.66px;font-size:15.40px;font-weight:400;color:#15161c;transform:scaleX(1.0228);-webkit-text-stroke:.42px #15161c;">LOCA-WORLD,</div>
<div class="t" id="t25" style="left:576.11px;top:518.16px;font-size:15.40px;font-weight:400;color:#15161c;transform:scaleX(1.0299);-webkit-text-stroke:.42px #15161c;">LOCAL VIEWS</div>
<div class="t" id="t26" style="left:768.61px;top:484.16px;font-size:15.40px;font-weight:400;color:#15161c;transform:scaleX(0.9941);-webkit-text-stroke:.42px #15161c;">IDENTIFY CONSISTENCY</div>
<div class="t" id="t27" style="left:789.01px;top:500.66px;font-size:15.40px;font-weight:400;color:#15161c;transform:scaleX(1.0103);-webkit-text-stroke:.42px #15161c;">BEFORE DECIDING</div>
<div class="t" id="t28" style="left:919.40px;top:71.66px;font-size:24.50px;font-weight:700;color:#ee7b31;transform:scaleX(0.6457);font-style:italic;">TROTTER</div>
</body></html>
